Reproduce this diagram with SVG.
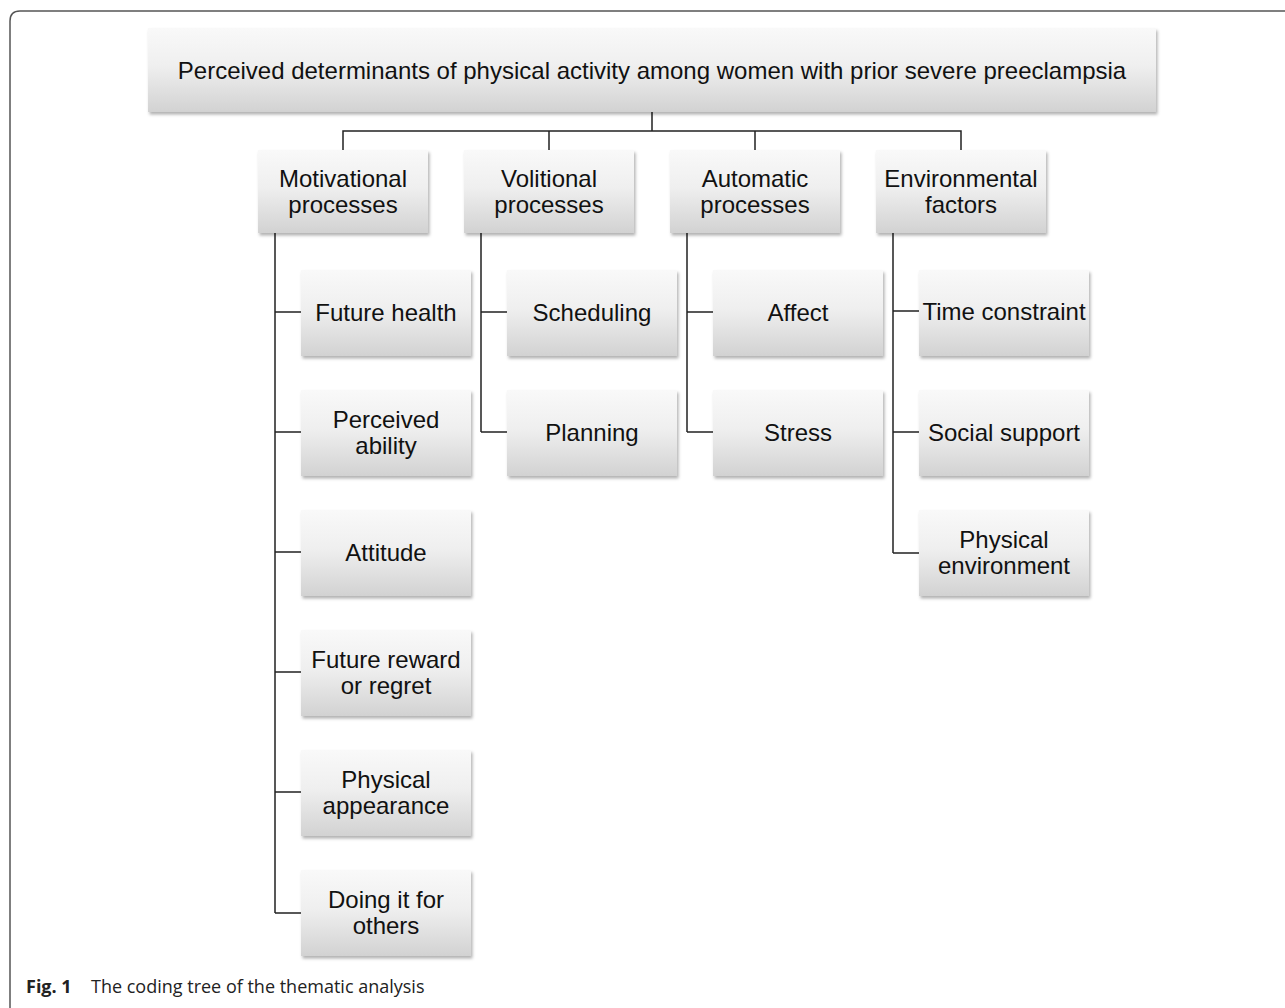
<svg xmlns="http://www.w3.org/2000/svg" width="1285" height="1008" viewBox="0 0 1285 1008">
<style>
.t{font-family:"Liberation Sans",Arial,sans-serif;font-size:24px;fill:#111;text-anchor:middle}
.box{fill:url(#g);filter:url(#sh)}
.ln{stroke:#222;stroke-width:1.5;fill:none}
.cap{font-family:"Open Sans","Noto Sans",sans-serif;font-size:18px;fill:#222}
</style>
<defs>
<linearGradient id="g" x1="0" y1="0" x2="0" y2="1">
<stop offset="0" stop-color="#f9f9f9"/>
<stop offset="0.45" stop-color="#efefef"/>
<stop offset="1" stop-color="#d2d2d2"/>
</linearGradient>
<filter id="sh" x="-10%" y="-10%" width="120%" height="130%">
<feDropShadow dx="1.5" dy="2.5" stdDeviation="1.8" flood-color="#000" flood-opacity="0.3"/>
</filter>
</defs>
<rect width="1285" height="1008" fill="#fff"/>
<path d="M10,1008 L10,21 Q10,11 20,11 L1285,11" fill="none" stroke="#555" stroke-width="1.5"/>
<g id="connectors">
<path class="ln" d="M652,112 V131 M343,150 V131 H961 V150 M549,131 V150 M755,131 V150"/>
<path class="ln" d="M275,233 V913 M275,312 H301 M275,432 H301 M275,552 H301 M275,672 H301 M275,792 H301 M275,913 H301"/>
<path class="ln" d="M481,233 V432 M481,312 H507 M481,432 H507"/>
<path class="ln" d="M687,233 V432 M687,312 H713 M687,432 H713"/>
<path class="ln" d="M893,233 V553 M893,311 H919 M893,432 H919 M893,553 H919"/>
</g>
<g id="root"><rect class="box" x="148" y="28" width="1008" height="84"/><text class="t" x="652" y="79" font-size="24.3">Perceived determinants of physical activity among women with prior severe preeclampsia</text></g>
<g id="motivational"><rect class="box" x="258" y="150" width="170" height="83"/><text class="t" x="343" y="187">Motivational</text><text class="t" x="343" y="213">processes</text></g>
<g id="volitional"><rect class="box" x="464" y="150" width="170" height="83"/><text class="t" x="549" y="187">Volitional</text><text class="t" x="549" y="213">processes</text></g>
<g id="automatic"><rect class="box" x="670" y="150" width="170" height="83"/><text class="t" x="755" y="187">Automatic</text><text class="t" x="755" y="213">processes</text></g>
<g id="environmental"><rect class="box" x="876" y="150" width="170" height="83"/><text class="t" x="961" y="187">Environmental</text><text class="t" x="961" y="213">factors</text></g>
<g id="future-health"><rect class="box" x="301" y="270" width="170" height="86"/><text class="t" x="386" y="321">Future health</text></g>
<g id="perceived-ability"><rect class="box" x="301" y="390" width="170" height="86"/><text class="t" x="386" y="428">Perceived</text><text class="t" x="386" y="454">ability</text></g>
<g id="attitude"><rect class="box" x="301" y="510" width="170" height="86"/><text class="t" x="386" y="561">Attitude</text></g>
<g id="future-reward"><rect class="box" x="301" y="630" width="170" height="86"/><text class="t" x="386" y="668">Future reward</text><text class="t" x="386" y="694">or regret</text></g>
<g id="physical-appearance"><rect class="box" x="301" y="750" width="170" height="86"/><text class="t" x="386" y="788">Physical</text><text class="t" x="386" y="814">appearance</text></g>
<g id="doing-it"><rect class="box" x="301" y="870" width="170" height="86"/><text class="t" x="386" y="908">Doing it for</text><text class="t" x="386" y="934">others</text></g>
<g id="scheduling"><rect class="box" x="507" y="270" width="170" height="86"/><text class="t" x="592" y="321">Scheduling</text></g>
<g id="planning"><rect class="box" x="507" y="390" width="170" height="86"/><text class="t" x="592" y="441">Planning</text></g>
<g id="affect"><rect class="box" x="713" y="270" width="170" height="86"/><text class="t" x="798" y="321">Affect</text></g>
<g id="stress"><rect class="box" x="713" y="390" width="170" height="86"/><text class="t" x="798" y="441">Stress</text></g>
<g id="time-constraint"><rect class="box" x="919" y="270" width="170" height="86"/><text class="t" x="1004" y="320">Time constraint</text></g>
<g id="social-support"><rect class="box" x="919" y="390" width="170" height="86"/><text class="t" x="1004" y="441">Social support</text></g>
<g id="physical-environment"><rect class="box" x="919" y="510" width="170" height="86"/><text class="t" x="1004" y="548">Physical</text><text class="t" x="1004" y="574">environment</text></g>
<text class="cap" x="26" y="993"><tspan font-weight="bold">Fig. 1</tspan><tspan x="91">The coding tree of the thematic analysis</tspan></text>
</svg>
